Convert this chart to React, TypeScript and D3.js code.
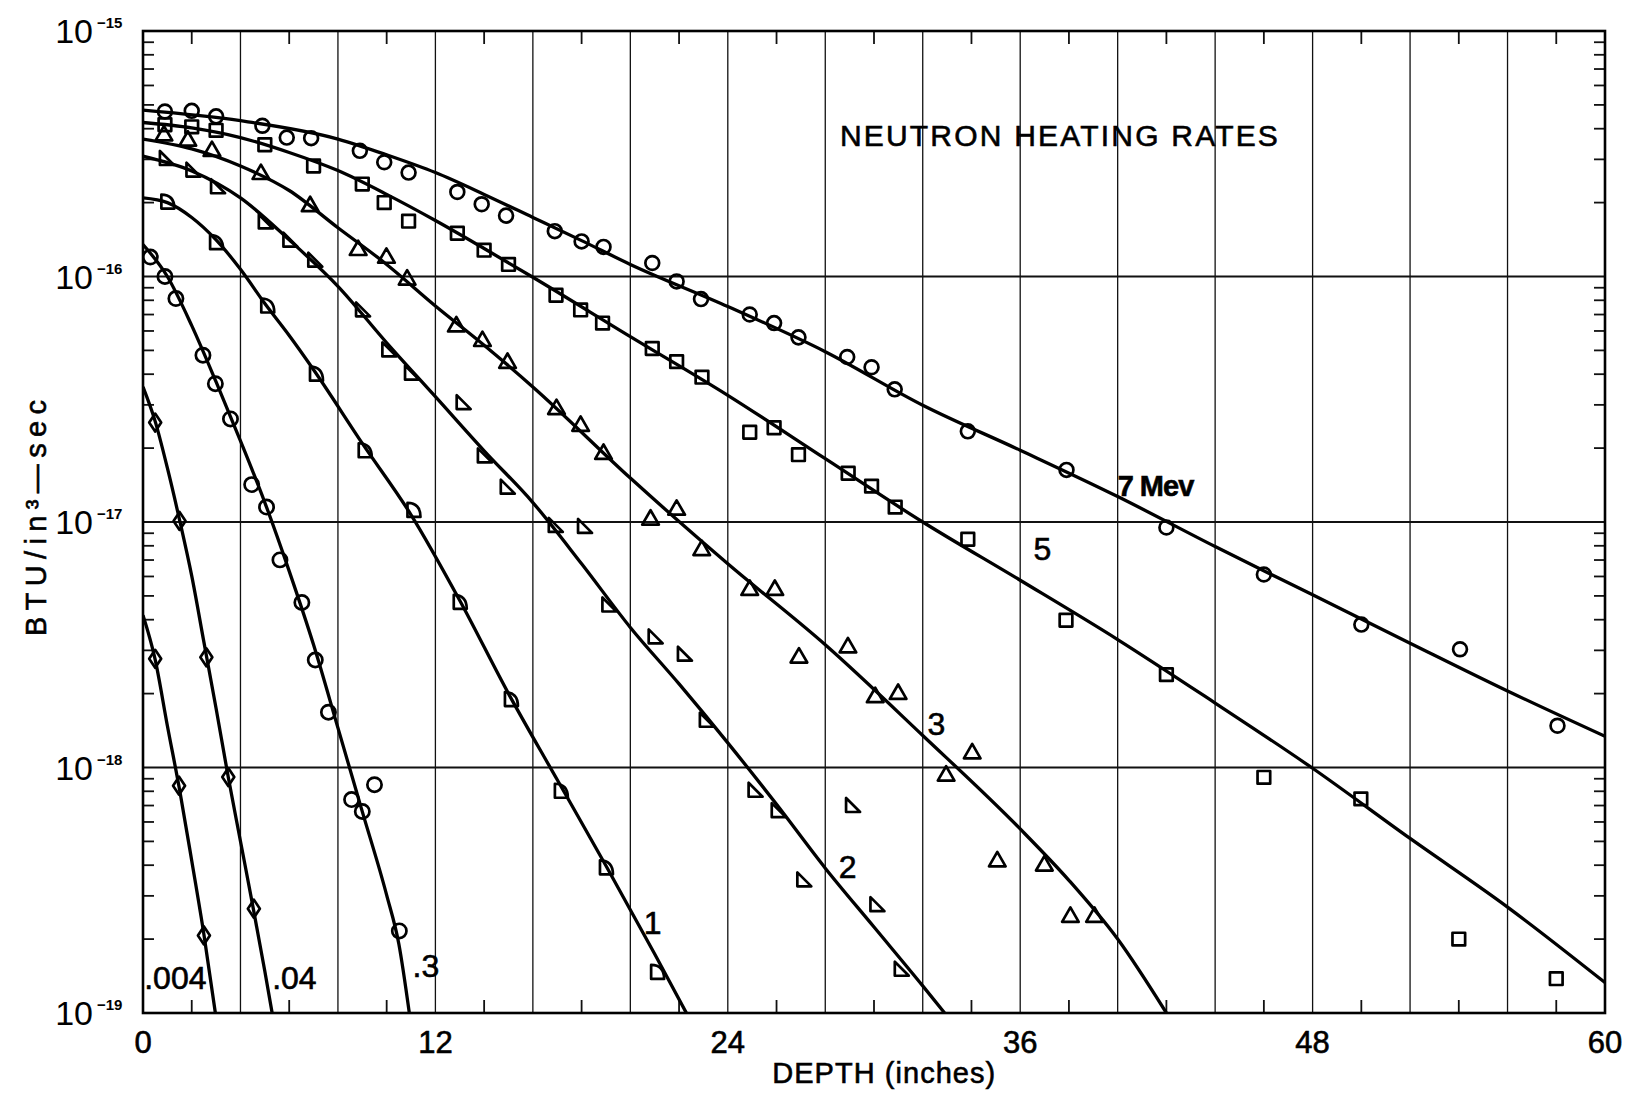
import React from 'react';
import * as d3 from 'd3';

type P = [number, number];

// ---- axis / tick data ----
const xDomain: [number, number] = [0, 60];
const yDomain: [number, number] = [1e-19, 1e-15];
const xTickLabels = [0, 12, 24, 36, 48, 60];
const xGridLines = [4, 8, 12, 16, 20, 24, 28, 32, 36, 40, 44, 48, 52, 56];
const xMinorTicks = [2, 6, 10, 14, 18, 22, 26, 30, 34, 38, 42, 46, 50, 54, 58];
const yDecades = [-15, -16, -17, -18, -19];

// ---- fitted curves (depth in inches, BTU/in^3-sec) ----
const curve7: P[] = [[0, 4.76e-16], [4, 4.31e-16], [8, 3.63e-16], [10, 3.13e-16], [12, 2.65e-16], [14, 2.16e-16], [16, 1.74e-16], [18, 1.40e-16], [20, 1.12e-16], [24, 7.55e-17], [28, 4.94e-17], [32, 2.99e-17], [36, 1.96e-17], [40, 1.27e-17], [44, 7.94e-18], [48, 5.05e-18], [52, 3.21e-18], [56, 2.05e-18], [60, 1.34e-18]];
const curve5: P[] = [[0, 4.24e-16], [2, 4.03e-16], [4, 3.68e-16], [6, 3.20e-16], [8, 2.70e-16], [10, 2.16e-16], [12, 1.69e-16], [14, 1.30e-16], [16, 9.93e-17], [20, 5.69e-17], [24, 3.28e-17], [28, 1.81e-17], [32, 1.0e-17], [36, 5.79e-18], [40, 3.32e-18], [44, 1.83e-18], [48, 9.93e-19], [52, 5.14e-19], [56, 2.70e-19], [60, 1.33e-19]];
const curve3: P[] = [[0, 3.63e-16], [2, 3.31e-16], [4, 2.82e-16], [6, 2.24e-16], [8, 1.58e-16], [10, 1.12e-16], [12, 7.59e-17], [14, 5.25e-17], [16, 3.55e-17], [20, 1.51e-17], [24, 6.76e-18], [28, 3.16e-18], [32, 1.35e-18], [36, 5.62e-19], [38, 3.47e-19], [40, 2.0e-19], [42, 1.0e-19]];
const curve2: P[] = [[0, 3.09e-16], [2, 2.69e-16], [4, 2.09e-16], [6, 1.41e-16], [8, 9.12e-17], [10, 5.37e-17], [12, 3.24e-17], [14, 1.95e-17], [16, 1.20e-17], [18, 6.76e-18], [20, 3.72e-18], [22, 2.19e-18], [24, 1.26e-18], [26, 7.08e-19], [28, 3.89e-19], [30, 2.24e-19], [32, 1.29e-19], [32.9, 1.0e-19]];
const curve1: P[] = [[0, 2.09e-16], [1, 2.0e-16], [2, 1.74e-16], [3, 1.41e-16], [4, 1.07e-16], [5, 7.76e-17], [6, 5.75e-17], [7, 4.17e-17], [9, 2.09e-17], [11, 1.07e-17], [13, 4.79e-18], [15, 2.0e-18], [17, 8.91e-19], [19, 3.98e-19], [21, 1.74e-19], [22.3, 1.0e-19]];
const curve03: P[] = [[0, 1.35e-16], [1, 1.0e-16], [2, 6.31e-17], [3, 3.72e-17], [4, 2.14e-17], [5, 1.20e-17], [6, 6.31e-18], [7, 3.16e-18], [8, 1.45e-18], [9, 6.61e-19], [10, 3.02e-19], [10.5, 1.91e-19], [10.93, 1.0e-19]];
const curve004: P[] = [[0, 3.55e-17], [0.5, 2.57e-17], [1, 1.66e-17], [1.5, 1.02e-17], [2, 6.03e-18], [2.5, 3.24e-18], [3, 1.74e-18], [3.5, 9.12e-19], [4, 5.01e-19], [4.5, 2.75e-19], [5, 1.48e-19], [5.3, 1.0e-19]];
const curve0004: P[] = [[0, 4.17e-18], [0.5, 2.75e-18], [1, 1.48e-18], [1.5, 8.13e-19], [2, 4.17e-19], [2.5, 2.09e-19], [2.97, 1.0e-19]];

// ---- measured points ----
const pts7: P[] = [[0.9, 4.70e-16], [2.0, 4.73e-16], [3.0, 4.49e-16], [4.9, 4.11e-16], [5.9, 3.68e-16], [6.9, 3.66e-16], [8.9, 3.25e-16], [9.9, 2.92e-16], [10.9, 2.65e-16], [12.9, 2.21e-16], [13.9, 1.97e-16], [14.9, 1.77e-16], [16.9, 1.53e-16], [18.0, 1.39e-16], [18.9, 1.32e-16], [20.9, 1.135e-16], [21.9, 9.55e-17], [22.9, 8.09e-17], [24.9, 7.0e-17], [25.9, 6.46e-17], [26.9, 5.65e-17], [28.9, 4.70e-17], [29.9, 4.27e-17], [30.85, 3.47e-17], [33.85, 2.34e-17], [37.9, 1.63e-17], [42.0, 9.5e-18], [46.0, 6.11e-18], [50.0, 3.82e-18], [54.05, 3.03e-18], [58.05, 1.48e-18]];
const pts5: P[] = [[0.9, 4.15e-16], [2.0, 4.07e-16], [3.0, 3.94e-16], [5.0, 3.44e-16], [7.0, 2.82e-16], [9.0, 2.38e-16], [9.9, 2.0e-16], [10.9, 1.68e-16], [12.9, 1.50e-16], [14.0, 1.28e-16], [15.0, 1.12e-16], [16.95, 8.39e-17], [17.96, 7.31e-17], [18.86, 6.46e-17], [20.9, 5.09e-17], [21.9, 4.50e-17], [22.94, 3.89e-17], [24.9, 2.32e-17], [25.9, 2.42e-17], [26.9, 1.88e-17], [28.94, 1.58e-17], [29.9, 1.40e-17], [30.87, 1.15e-17], [33.85, 8.51e-18], [37.88, 3.98e-18], [42.0, 2.39e-18], [46.0, 9.12e-19], [49.98, 7.45e-19], [54.0, 2.0e-19], [58.0, 1.38e-19]];
const pts3: P[] = [[0.86, 3.75e-16], [1.84, 3.57e-16], [2.83, 3.24e-16], [4.84, 2.61e-16], [6.86, 1.93e-16], [8.83, 1.28e-16], [9.99, 1.19e-16], [10.84, 9.70e-17], [12.86, 6.25e-17], [13.93, 5.45e-17], [14.96, 4.44e-17], [16.97, 2.88e-17], [17.96, 2.46e-17], [18.9, 1.89e-17], [20.83, 1.02e-17], [21.9, 1.12e-17], [22.93, 7.67e-18], [24.9, 5.28e-18], [25.93, 5.28e-18], [26.92, 2.80e-18], [28.93, 3.08e-18], [30.05, 1.93e-18], [30.99, 1.99e-18], [32.96, 9.25e-19], [34.03, 1.14e-18], [35.06, 4.14e-19], [36.99, 3.98e-19], [38.06, 2.46e-19], [39.05, 2.46e-19]];
const pts2: P[] = [[0.94, 3.01e-16], [2.03, 2.70e-16], [3.04, 2.31e-16], [5.0, 1.66e-16], [6.01, 1.40e-16], [7.03, 1.16e-16], [8.99, 7.28e-17], [10.07, 5.0e-17], [11.0, 4.02e-17], [13.12, 3.05e-17], [13.99, 1.85e-17], [14.93, 1.38e-17], [16.9, 9.64e-18], [18.1, 9.55e-18], [19.1, 4.57e-18], [21.0, 3.39e-18], [22.2, 2.88e-18], [23.1, 1.55e-18], [25.1, 8.04e-19], [26.05, 6.64e-19], [27.1, 3.47e-19], [29.1, 6.97e-19], [30.1, 2.75e-19], [31.1, 1.50e-19]];
const pts1: P[] = [[1.0, 2.02e-16], [3.0, 1.38e-16], [5.1, 7.62e-17], [7.1, 4.02e-17], [9.1, 1.96e-17], [11.1, 1.12e-17], [13.0, 4.73e-18], [15.1, 1.90e-18], [17.15, 8.04e-19], [19.0, 3.92e-19], [21.1, 1.47e-19]];
const pts03: P[] = [[0.3, 1.20e-16], [0.9, 1.0e-16], [1.35, 8.13e-17], [2.46, 4.78e-17], [2.97, 3.66e-17], [3.59, 2.63e-17], [4.46, 1.42e-17], [5.07, 1.15e-17], [5.62, 7.01e-18], [6.52, 4.70e-18], [7.07, 2.74e-18], [7.61, 1.68e-18], [8.56, 7.40e-19], [9.0, 6.62e-19], [9.5, 8.51e-19], [10.52, 2.16e-19]];
const pts004: P[] = [[0.5, 2.54e-17], [1.5, 1.01e-17], [2.6, 2.81e-18], [3.5, 9.14e-19], [4.55, 2.66e-19]];
const pts0004: P[] = [[0.5, 2.77e-18], [1.48, 8.43e-19], [2.5, 2.07e-19]];

// ---- curve labels: [depth, value, text] (text baseline start) ----
const curveLabels: [number, number, string][] = [
  [40.0, 1.28e-17, '7 Mev'],
  [36.55, 7.0e-18, '5'],
  [32.2, 1.36e-18, '3'],
  [28.55, 3.55e-19, '2'],
  [20.55, 2.1e-19, '1'],
  [11.06, 1.40e-19, '.3'],
  [5.3, 1.25e-19, '.04'],
  [0.05, 1.25e-19, '.004'],
];

const titleText = 'NEUTRON HEATING RATES';
const titlePos: P = [28.6, 3.4e-16];
const xTitle = 'DEPTH (inches)';
const yTitle = 'BTU/in³—sec';

const FONT = "'Liberation Sans', Arial, sans-serif";

const M = { left: 143, right: 1605, top: 31, bottom: 1013 };

type Shape = 'circle' | 'square' | 'triUp' | 'triRight' | 'dee' | 'octo' | 'diamond';

function markerPath(shape: Shape): string {
  switch (shape) {
    case 'circle': return d3.symbol(d3.symbolCircle, 150)()!;
    case 'octo': return d3.symbol(d3.symbolCircle, 160)()!;
    case 'square': return d3.symbol(d3.symbolSquare, 160)()!;
    case 'triUp': return d3.symbol(d3.symbolTriangle, 120)()!;
    case 'diamond': return 'M0,-9L6,0L0,9L-6,0Z';
    case 'triRight': return 'M-6,-8L-6,6L8,6Z';
    case 'dee': return 'M-6,7L-6,-7Q7,-7 7,7Z';
  }
}

const textStroke = { stroke: '#000', strokeWidth: 0.6 };

export default function App() {
  const x = d3.scaleLinear().domain(xDomain).range([M.left, M.right]);
  const y = d3.scaleLog().domain(yDomain).range([M.bottom, M.top]);
  const line = d3.line<P>().x(d => x(d[0])).y(d => y(d[1])).curve(d3.curveMonotoneX);

  const curves: P[][] = [curve7, curve5, curve3, curve2, curve1, curve03, curve004, curve0004];
  const series: { pts: P[]; shape: Shape }[] = [
    { pts: pts7, shape: 'circle' },
    { pts: pts5, shape: 'square' },
    { pts: pts3, shape: 'triUp' },
    { pts: pts2, shape: 'triRight' },
    { pts: pts1, shape: 'dee' },
    { pts: pts03, shape: 'octo' },
    { pts: pts004, shape: 'diamond' },
    { pts: pts0004, shape: 'diamond' },
  ];

  const yMinor: number[] = [];
  for (let e = -19; e < -15; e++) {
    for (let m = 2; m <= 9; m++) yMinor.push(m * Math.pow(10, e));
  }

  return (
    <svg width={1638} height={1093} style={{ position: 'absolute', left: 0, top: 0, background: '#fff' }}
      fontFamily={FONT}>
      <defs>
        <clipPath id="plotClip">
          <rect x={M.left} y={M.top} width={M.right - M.left} height={M.bottom - M.top} />
        </clipPath>
      </defs>
      <rect x={0} y={0} width={1638} height={1093} fill="#fff" />

      {/* vertical grid */}
      {xGridLines.map(v => (
        <line key={'vg' + v} x1={x(v)} x2={x(v)} y1={M.top} y2={M.bottom} stroke="#111" strokeWidth={1.3} />
      ))}
      {/* horizontal decade grid */}
      {yDecades.map(e => (
        <line key={'hg' + e} x1={M.left} x2={M.right} y1={y(Math.pow(10, e))} y2={y(Math.pow(10, e))} stroke="#111" strokeWidth={1.8} />
      ))}
      {/* minor ticks x */}
      {xMinorTicks.map(v => (
        <g key={'xt' + v}>
          <line x1={x(v)} x2={x(v)} y1={M.bottom} y2={M.bottom - 13} stroke="#111" strokeWidth={1.8} />
          <line x1={x(v)} x2={x(v)} y1={M.top} y2={M.top + 13} stroke="#111" strokeWidth={1.8} />
        </g>
      ))}
      {/* minor ticks y */}
      {yMinor.map((v, i) => (
        <g key={'yt' + i}>
          <line x1={M.left} x2={M.left + 11} y1={y(v)} y2={y(v)} stroke="#111" strokeWidth={1.8} />
          <line x1={M.right} x2={M.right - 11} y1={y(v)} y2={y(v)} stroke="#111" strokeWidth={1.8} />
        </g>
      ))}
      {/* frame */}
      <rect x={M.left} y={M.top} width={M.right - M.left} height={M.bottom - M.top} fill="none" stroke="#000" strokeWidth={2.6} />

      {/* curves */}
      <g clipPath="url(#plotClip)">
        {curves.map((c, i) => (
          <path key={'c' + i} d={line(c) ?? ''} fill="none" stroke="#000" strokeWidth={3.3} />
        ))}
        {series.map((s, i) => (
          <g key={'s' + i}>
            {s.pts.map((p, j) => (
              <path key={j} d={markerPath(s.shape)} transform={`translate(${x(p[0])},${y(p[1])})`}
                fill="none" stroke="#000" strokeWidth={2.7} strokeLinejoin="round" />
            ))}
          </g>
        ))}
      </g>

      {/* curve labels */}
      {curveLabels.map(([dx, dv, t], i) => (
        <text key={'cl' + i} x={x(dx)} y={y(dv)} fontSize={t === '7 Mev' ? 29 : 32} fill="#000"
          fontWeight={t === '7 Mev' ? 'bold' : 'normal'} letterSpacing={t === '7 Mev' ? -1 : 0} {...textStroke}>{t}</text>
      ))}

      {/* title */}
      <text x={x(titlePos[0])} y={y(titlePos[1])} fontSize={30} fill="#000" textLength={438} lengthAdjust="spacing"
        {...textStroke}>{titleText}</text>

      {/* x tick labels */}
      {xTickLabels.map(v => (
        <text key={'xl' + v} x={x(v)} y={M.bottom + 40} fontSize={31} textAnchor="middle" fill="#000" {...textStroke}>{v}</text>
      ))}
      <text x={x(30.4)} y={M.bottom + 70} fontSize={29} textAnchor="middle" fill="#000"
        textLength={223} lengthAdjust="spacing" {...textStroke}>{xTitle}</text>

      {/* y tick labels */}
      {yDecades.map(e => (
        <g key={'yl' + e} transform={`translate(0,${y(Math.pow(10, e))})`}>
          <text x={93} y={12} fontSize={34} textAnchor="end" fill="#000">10</text>
          <text x={97} y={-3} fontSize={15} fontWeight="bold" fill="#000">{'\u2212' + String(-e)}</text>
        </g>
      ))}

      {/* y axis title */}
      <text transform={`translate(46,${(M.top + M.bottom) / 2 - 4}) rotate(-90)`} fontSize={29} textAnchor="middle" fill="#000"
        textLength={236} lengthAdjust="spacing" {...textStroke}>{yTitle}</text>
    </svg>
  );
}
